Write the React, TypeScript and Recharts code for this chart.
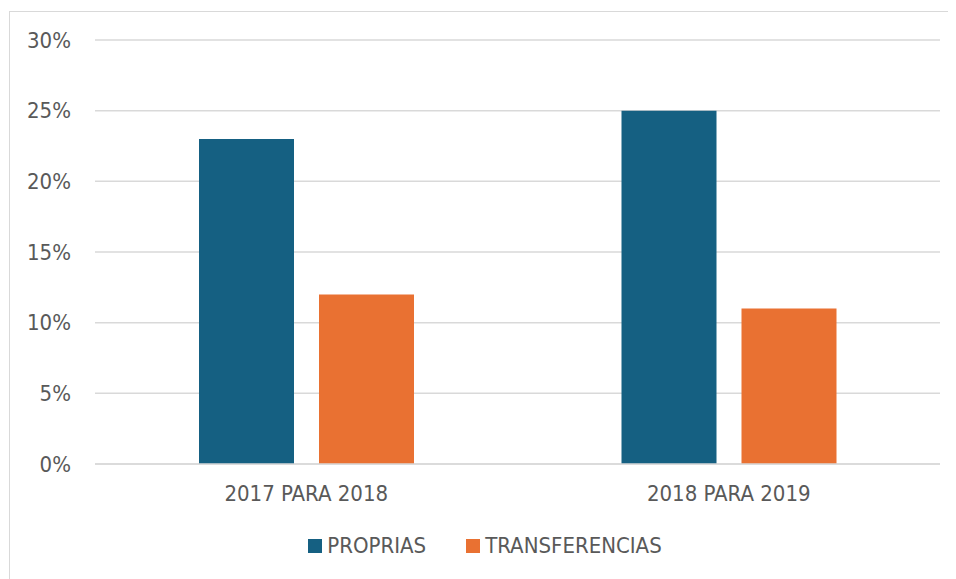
import { BarChart, Bar, XAxis, YAxis, CartesianGrid, Legend } from "recharts";

const periodos = ["2017 PARA 2018", "2018 PARA 2019"];
const proprias = [23, 25];
const transferencias = [12, 11];
const yTicks = [0, 5, 10, 15, 20, 25, 30];

const data = periodos.map((nome, i) => ({
  nome,
  PROPRIAS: proprias[i],
  TRANSFERENCIAS: transferencias[i],
}));

const FONT = "'DejaVu Sans Condensed', 'DejaVu Sans', sans-serif";
const TEXT = "#595959";

const LegendaCustom = ({ payload }: any) => (
  <div
    style={{
      display: "flex",
      justifyContent: "center",
      height: 24,
      lineHeight: "24px",
      fontFamily: FONT,
      fontSize: 22,
      color: TEXT,
      paddingLeft: 20,
    }}
  >
    {(payload || []).map((item: any, i: number) => (
      <div
        key={item.value}
        style={{ display: "flex", alignItems: "center", marginLeft: i > 0 ? 40 : 0 }}
      >
        <span
          style={{
            display: "inline-block",
            width: 14,
            height: 14,
            background: item.color,
            marginRight: 5,
          }}
        />
        {item.value}
      </div>
    ))}
  </div>
);

export default function App() {
  return (
    <div
      style={{
        marginLeft: 1,
        marginTop: 3,
        width: 960,
        height: 580,
        border: "1px solid #d9d9d9",
        boxSizing: "border-box",
        background: "#fff",
      }}
    >
      <BarChart
        width={946}
        height={567}
        data={data}
        margin={{ top: 28, right: 16, left: 0, bottom: 21 }}
        barSize={95}
        barGap={25}
      >
        <CartesianGrid vertical={false} stroke="#d9d9d9" strokeWidth={1.5} />
        <XAxis
          dataKey="nome"
          height={70}
          tickLine={false}
          axisLine={{ stroke: "#d9d9d9", strokeWidth: 1.5 }}
          tickSize={0}
          tickMargin={21}
          tick={{ fill: TEXT, fontSize: 22, fontFamily: FONT }}
        />
        <YAxis
          width={85}
          domain={[0, 30]}
          ticks={yTicks}
          tickFormatter={(v: number) => `${v}%`}
          axisLine={false}
          tickLine={false}
          tickSize={0}
          tickMargin={24}
          tick={{ fill: TEXT, fontSize: 22, fontFamily: FONT }}
        />
        <Legend verticalAlign="bottom" height={24} content={<LegendaCustom />} />
        <Bar dataKey="PROPRIAS" fill="#156082" isAnimationActive={false} />
        <Bar dataKey="TRANSFERENCIAS" fill="#E97132" isAnimationActive={false} />
      </BarChart>
    </div>
  );
}
